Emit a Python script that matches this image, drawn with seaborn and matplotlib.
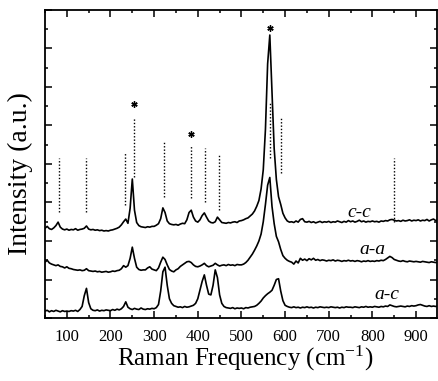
import numpy as np
import pandas as pd
import matplotlib
matplotlib.use("Agg")
import matplotlib.pyplot as plt
from matplotlib.ticker import MultipleLocator, NullFormatter
import seaborn as sns

# ---------------- data ----------------
freq = list(range(50, 955, 5))  # Raman shift sampling grid, cm^-1

cc = [2.33, 2.38, 2.32, 2.30, 2.34, 2.40, 2.49, 2.36, 2.31, 2.29,
      2.31, 2.28, 2.30, 2.29, 2.32, 2.28, 2.30, 2.31, 2.33, 2.39,
      2.31, 2.29, 2.30, 2.28, 2.29, 2.27, 2.28, 2.26, 2.27, 2.26,
      2.28, 2.29, 2.31, 2.33, 2.36, 2.42, 2.50, 2.57, 2.46, 2.85,
      3.61, 2.80, 2.48, 2.40, 2.37, 2.36, 2.35, 2.37, 2.36, 2.38,
      2.38, 2.41, 2.45, 2.58, 2.86, 2.74, 2.52, 2.45, 2.43, 2.42,
      2.43, 2.41, 2.44, 2.46, 2.45, 2.55, 2.74, 2.80, 2.62, 2.52,
      2.49, 2.55, 2.66, 2.73, 2.62, 2.52, 2.48, 2.47, 2.50, 2.62,
      2.55, 2.48, 2.47, 2.46, 2.48, 2.47, 2.49, 2.50, 2.48, 2.52,
      2.53, 2.55, 2.58, 2.60, 2.65, 2.70, 2.78, 2.90, 3.05, 3.35,
      3.85, 4.90, 6.60, 7.35, 5.90, 4.40, 3.60, 3.15, 2.95, 2.72,
      2.60, 2.52, 2.49, 2.50, 2.48, 2.52, 2.49, 2.56, 2.58, 2.50,
      2.49, 2.51, 2.48, 2.50, 2.47, 2.49, 2.51, 2.48, 2.50, 2.49,
      2.51, 2.48, 2.50, 2.49, 2.52, 2.50, 2.48, 2.51, 2.49, 2.53,
      2.50, 2.52, 2.49, 2.51, 2.54, 2.50, 2.52, 2.49, 2.51, 2.50,
      2.52, 2.50, 2.51, 2.49, 2.52, 2.51, 2.53, 2.52, 2.55, 2.56,
      2.54, 2.52, 2.53, 2.51, 2.54, 2.52, 2.53, 2.55, 2.52, 2.54,
      2.53, 2.55, 2.52, 2.54, 2.53, 2.56, 2.52, 2.55, 2.57, 2.53,
      2.54]

aa = [1.45, 1.50, 1.43, 1.40, 1.38, 1.36, 1.38, 1.34, 1.33, 1.30,
      1.33, 1.29, 1.28, 1.26, 1.25, 1.24, 1.25, 1.23, 1.24, 1.28,
      1.23, 1.22, 1.21, 1.22, 1.20, 1.21, 1.19, 1.20, 1.21, 1.19,
      1.20, 1.22, 1.21, 1.23, 1.24, 1.28, 1.36, 1.32, 1.36, 1.55,
      1.84, 1.55, 1.32, 1.26, 1.24, 1.25, 1.25, 1.30, 1.33, 1.27,
      1.25, 1.23, 1.30, 1.45, 1.58, 1.52, 1.38, 1.26, 1.22, 1.20,
      1.25, 1.28, 1.34, 1.38, 1.42, 1.46, 1.47, 1.44, 1.38, 1.34,
      1.33, 1.35, 1.38, 1.42, 1.36, 1.33, 1.35, 1.37, 1.42, 1.38,
      1.35, 1.37, 1.38, 1.36, 1.39, 1.37, 1.38, 1.36, 1.39, 1.38,
      1.38, 1.40, 1.44, 1.50, 1.58, 1.66, 1.76, 1.87, 2.00, 2.18,
      2.50, 2.95, 3.45, 3.65, 2.90, 2.45, 2.12, 1.98, 1.78, 1.62,
      1.55, 1.50, 1.47, 1.45, 1.40, 1.48, 1.43, 1.55, 1.50, 1.53,
      1.49, 1.54, 1.51, 1.55, 1.50, 1.52, 1.49, 1.51, 1.50, 1.48,
      1.50, 1.49, 1.51, 1.48, 1.50, 1.49, 1.47, 1.49, 1.48, 1.50,
      1.48, 1.49, 1.47, 1.49, 1.48, 1.46, 1.48, 1.47, 1.49, 1.47,
      1.48, 1.47, 1.49, 1.48, 1.50, 1.49, 1.52, 1.56, 1.60, 1.57,
      1.52, 1.50, 1.48, 1.47, 1.49, 1.47, 1.46, 1.48, 1.47, 1.46,
      1.47, 1.46, 1.45, 1.47, 1.46, 1.45, 1.44, 1.46, 1.45, 1.44,
      1.45]

ac = [0.18, 0.20, 0.16, 0.19, 0.17, 0.20, 0.18, 0.16, 0.19, 0.17,
      0.18, 0.17, 0.19, 0.18, 0.20, 0.17, 0.22, 0.30, 0.58, 0.77,
      0.40, 0.24, 0.20, 0.19, 0.21, 0.18, 0.20, 0.19, 0.21, 0.20,
      0.19, 0.22, 0.20, 0.23, 0.21, 0.24, 0.30, 0.42, 0.28, 0.24,
      0.22, 0.25, 0.23, 0.22, 0.26, 0.23, 0.22, 0.24, 0.23, 0.25,
      0.24, 0.27, 0.35, 0.70, 1.20, 1.32, 0.85, 0.50, 0.38, 0.32,
      0.30, 0.28, 0.29, 0.27, 0.30, 0.28, 0.29, 0.31, 0.33, 0.38,
      0.50, 0.72, 0.95, 1.12, 0.85, 0.62, 0.60, 0.85, 1.25, 1.05,
      0.60, 0.38, 0.30, 0.27, 0.26, 0.25, 0.27, 0.24, 0.26, 0.25,
      0.26, 0.24, 0.27, 0.26, 0.28, 0.29, 0.30, 0.33, 0.38, 0.44,
      0.52, 0.58, 0.63, 0.67, 0.72, 0.85, 1.00, 1.02, 0.70, 0.45,
      0.33, 0.30, 0.28, 0.27, 0.29, 0.27, 0.28, 0.26, 0.28, 0.27,
      0.29, 0.27, 0.28, 0.26, 0.28, 0.27, 0.29, 0.28, 0.27, 0.28,
      0.27, 0.29, 0.28, 0.27, 0.28, 0.26, 0.28, 0.27, 0.29, 0.28,
      0.28, 0.27, 0.29, 0.28, 0.27, 0.29, 0.28, 0.30, 0.28, 0.29,
      0.28, 0.30, 0.29, 0.28, 0.30, 0.29, 0.31, 0.30, 0.34, 0.32,
      0.30, 0.29, 0.30, 0.31, 0.30, 0.29, 0.31, 0.30, 0.32, 0.31,
      0.32, 0.34, 0.35, 0.33, 0.31, 0.30, 0.32, 0.30, 0.31, 0.30,
      0.31]

series_names = ["c-c", "a-a", "a-c"]
label_x = [771, 799, 833]
label_y = [2.75, 1.77, 0.60]

dot_x = [82, 145, 233, 255, 323, 384, 416, 448, 565, 590, 850]
dot_lo = [2.75, 2.75, 2.94, 3.65, 3.14, 3.12, 3.01, 2.81, 4.16, 3.77, 2.49]
dot_hi = [4.16, 4.16, 4.31, 5.22, 4.57, 4.49, 4.42, 4.23, 5.58, 5.19, 4.16]

star_x = [255, 384, 565]
star_y = [5.56, 4.78, 7.53]

xtick_vals = [100, 200, 300, 400, 500, 600, 700, 800, 900]

# ---------------- figure ----------------
sns.set_theme(style="ticks")
plt.rcParams["font.family"] = ["Liberation Serif", "DejaVu Serif"]
plt.rcParams["mathtext.fontset"] = "custom"
plt.rcParams["mathtext.rm"] = "Liberation Serif"
plt.rcParams["mathtext.it"] = "Liberation Serif:italic"

W, H = 438, 381
fig = plt.figure(figsize=(W / 100, H / 100), dpi=100)
ax = fig.add_axes([45 / W, 1 - 318 / H, (437 - 45) / W, (318 - 10) / H])

df = pd.DataFrame({
    "freq": freq * 3,
    "intensity": cc + aa + ac,
    "pol": [series_names[0]] * len(cc) + [series_names[1]] * len(aa) + [series_names[2]] * len(ac),
})
sns.lineplot(data=df, x="freq", y="intensity", hue="pol", units="pol",
             estimator=None, palette=["black"] * 3, legend=False,
             linewidth=1.2, ax=ax, sort=True)

ax.vlines(dot_x, dot_lo, dot_hi, colors="black", linewidth=1.0,
          linestyles=(0, (1.0, 1.4)))
ax.plot(star_x, star_y, linestyle="none", marker=(6, 2, 0), markersize=4.5,
        markeredgewidth=1.0, color="black")

for name, lx, ly in zip(series_names, label_x, label_y):
    ax.text(lx, ly, name, ha="center", va="center", fontsize=14,
            style="italic", color="black")

ax.set_xlim(50, 948)
ax.set_ylim(0, 8)
ax.set_xticks(xtick_vals)
ax.set_xticklabels([str(v) for v in xtick_vals])
ax.xaxis.set_minor_locator(MultipleLocator(50))
ax.yaxis.set_major_locator(MultipleLocator(1))
ax.yaxis.set_minor_locator(MultipleLocator(0.5))
ax.yaxis.set_major_formatter(NullFormatter())

ax.tick_params(which="both", direction="in", top=True, right=True,
               color="black", width=1.1)
ax.tick_params(which="major", length=5, labelsize=12, pad=8,
               labelcolor="black")
ax.tick_params(which="minor", length=2.5)
for s in ax.spines.values():
    s.set_linewidth(1.3)
    s.set_color("black")

ax.set_xlabel("Raman Frequency (cm$^{-1}$)", fontsize=18, color="black")
ax.xaxis.set_label_coords(0.51, -0.085)
ax.set_ylabel("Intensity (a.u.)", fontsize=20, color="black")
ax.yaxis.set_label_coords(-0.03, 0.47)

fig.savefig("out.png", dpi=100, facecolor="white")
